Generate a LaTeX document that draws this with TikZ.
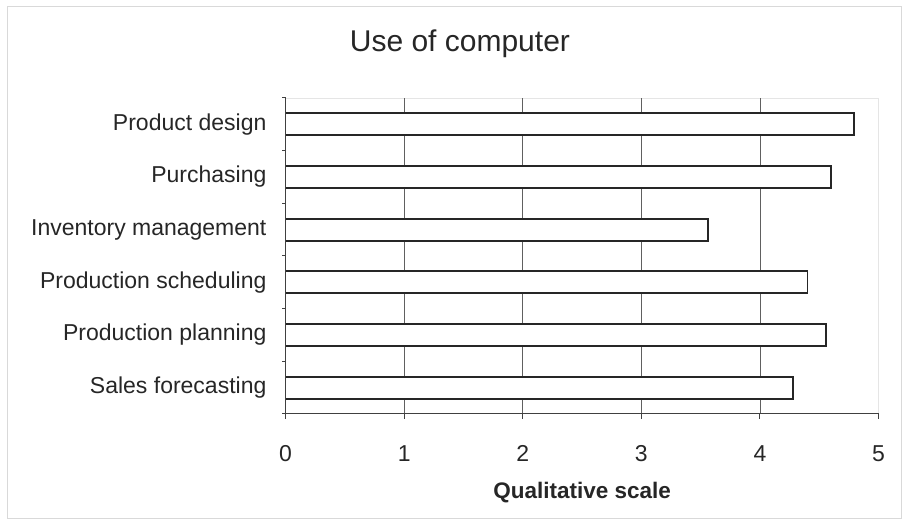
\documentclass[tikz,border=0pt]{standalone}
\usepackage{fontspec}
\setmainfont{Liberation Sans}

\begin{document}
\begin{tikzpicture}[x=118.6pt, y=52.67pt, font=\fontsize{23}{27}\selectfont]
\useasboundingbox (-2.408,-2.164) rectangle (5.206,7.860);
\draw[gray!30] (-2.349,-1.974) rectangle (5.189,7.746);
\draw[gray!20] (0,6) -- (5,6) -- (5,0);
\foreach \i in {1,...,4} \draw[gray!75!black, line width=0.8pt] (\i,0) -- (\i,6);
\foreach [count=\k] \name/\val in {Sales forecasting/4.28, Production planning/4.56, Production scheduling/4.40, Inventory management/3.56, Purchasing/4.60, Product design/4.79} {
  \draw[line width=1.8pt, black!85, fill=white] (0,\k-0.709) rectangle (\val,\k-0.291);
  \node[anchor=east, inner sep=0, text=black!85] (cat\k) at (-0.16,\k-0.5) {\name};
}
\draw[black!75, line width=1pt] (0,6) -- (0,0) -- (5,0);
\foreach \i in {0,...,6} \draw[black!75, line width=1pt] (0,\i) -- (-0.034,\i);
\foreach \i in {0,...,5} {
  \draw[black!75, line width=1pt] (\i,0) -- (\i,-0.09);
  \node[anchor=base, inner sep=0, text=black!85] (tick\i) at (\i,-0.91) {\i};
}
\node[anchor=base, inner sep=0, text=black!85, font=\fontsize{22.5}{27}\selectfont\bfseries] (xlabel) at (2.5,-1.614) {Qualitative scale};
\node[anchor=base, inner sep=0, text=black!85, font=\fontsize{30}{36}\selectfont] (title) at (1.47,6.89) {Use of computer};
\end{tikzpicture}
\end{document}
